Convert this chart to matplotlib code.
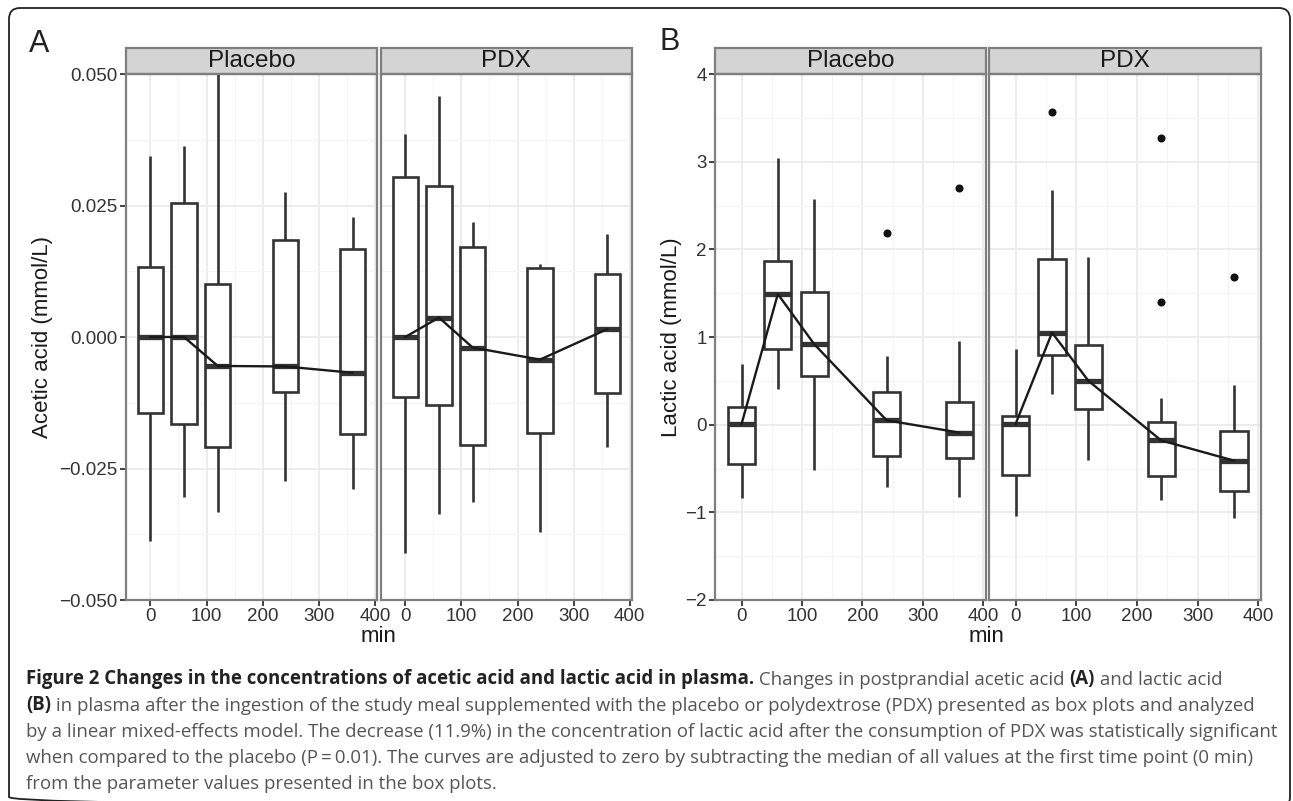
import matplotlib
matplotlib.use('Agg')
import matplotlib.pyplot as plt
from matplotlib.patches import FancyBboxPatch, Rectangle
from matplotlib.ticker import MultipleLocator, FuncFormatter

W, H = 1293, 801

times = [0, 60, 120, 240, 360]

# acetic acid, placebo (whisker low, Q1, median, Q3, whisker high)
ac_pla_lo = [-0.0387, -0.0304, -0.0332, -0.0274, -0.0289]
ac_pla_q1 = [-0.0144, -0.0165, -0.0209, -0.0105, -0.0185]
ac_pla_med = [0.0, 0.0, -0.0055, -0.0056, -0.0068]
ac_pla_q3 = [0.0134, 0.0255, 0.0101, 0.0184, 0.0167]
ac_pla_hi = [0.0344, 0.0363, 0.0505, 0.0275, 0.0229]

# acetic acid, PDX
ac_pdx_lo = [-0.0411, -0.0337, -0.0314, -0.0371, -0.0210]
ac_pdx_q1 = [-0.0115, -0.0129, -0.0205, -0.0182, -0.0107]
ac_pdx_med = [0.0, 0.0037, -0.0020, -0.0043, 0.0015]
ac_pdx_q3 = [0.0305, 0.0288, 0.0171, 0.0131, 0.0120]
ac_pdx_hi = [0.0385, 0.0459, 0.0218, 0.0138, 0.0195]

# lactic acid, placebo
la_pla_lo = [-0.84, 0.41, -0.52, -0.71, -0.83]
la_pla_q1 = [-0.45, 0.86, 0.56, -0.36, -0.38]
la_pla_med = [0.01, 1.49, 0.92, 0.05, -0.09]
la_pla_q3 = [0.20, 1.87, 1.51, 0.37, 0.26]
la_pla_hi = [0.69, 3.04, 2.57, 0.78, 0.96]
la_pla_out_t = [240, 360]
la_pla_out_y = [2.19, 2.70]

# lactic acid, PDX
la_pdx_lo = [-1.04, 0.35, -0.40, -0.86, -1.07]
la_pdx_q1 = [-0.57, 0.79, 0.18, -0.58, -0.76]
la_pdx_med = [0.01, 1.05, 0.50, -0.18, -0.41]
la_pdx_q3 = [0.10, 1.89, 0.91, 0.03, -0.07]
la_pdx_hi = [0.86, 2.68, 1.91, 0.30, 0.45]
la_pdx_out_t = [60, 240, 240, 360]
la_pdx_out_y = [3.57, 3.27, 1.40, 1.69]

facet_names = ['Placebo', 'PDX']
caption_lines = [
    [("Figure 2 Changes in the concentrations of acetic acid and lactic acid in plasma.", True),
     (" Changes in postprandial acetic acid ", False), ("(A)", True), (" and lactic acid", False)],
    [("(B)", True), (" in plasma after the ingestion of the study meal supplemented with the placebo or "
                     "polydextrose (PDX) presented as box plots and analyzed", False)],
    [("by a linear mixed-effects model. The decrease (11.9%) in the concentration of lactic acid after "
      "the consumption of PDX was statistically significant", False)],
    [("when compared to the placebo (P\u2009=\u20090.01). The curves are adjusted to zero by subtracting "
      "the median of all values at the first time point (0 min)", False)],
    [("from the parameter values presented in the box plots.", False)],
]

plt.rcParams['font.family'] = ['Liberation Sans', 'DejaVu Sans']
box_col = '#333333'
tick_col = '#333333'

fig = plt.figure(figsize=(W / 100, H / 100), dpi=100)
fig.patch.set_facecolor('white')

# background axes in pixel coordinates for border, labels and caption
bg = fig.add_axes([0, 0, 1, 1], zorder=0)
bg.set_xlim(0, W)
bg.set_ylim(H, 0)
bg.axis('off')
bg.patch.set_alpha(0)

border = FancyBboxPatch((9, 8), 1281, 800, boxstyle='round,pad=0,rounding_size=11',
                        fc='none', ec='#222222', lw=1.3, clip_on=False)
bg.add_patch(border)


def px_axes(x0, x1, y0, y1):
    return fig.add_axes([x0 / W, 1 - y1 / H, (x1 - x0) / W, (y1 - y0) / H], zorder=1)


def minus_fmt(fmt):
    return FuncFormatter(lambda v, pos: (fmt % v).replace('-', '\u2212'))


def draw_facet(ax, name, lo, q1, med, q3, hi, ylim, major, minor, fmt, show_y,
               out_t=(), out_y=()):
    stats = [dict(whislo=a, q1=b, med=c, q3=d, whishi=e)
             for a, b, c, d, e in zip(lo, q1, med, q3, hi)]
    ax.bxp(stats, positions=times, widths=45, showcaps=False, showfliers=False,
           patch_artist=True, manage_ticks=False,
           boxprops=dict(facecolor='white', edgecolor=box_col, linewidth=1.9),
           whiskerprops=dict(color=box_col, linewidth=1.9, solid_capstyle='butt'),
           medianprops=dict(color=box_col, linewidth=3.8, solid_capstyle='butt'))
    ax.plot(times, med, color='#1a1a1a', lw=1.7, zorder=5)
    if len(out_t):
        ax.plot(out_t, out_y, 'o', color='#111111', ms=4.8, zorder=4)
    ax.set_xlim(-44, 404)
    ax.set_ylim(*ylim)
    ax.xaxis.set_major_locator(MultipleLocator(100))
    ax.xaxis.set_minor_locator(MultipleLocator(50))
    ax.yaxis.set_major_locator(MultipleLocator(major))
    ax.yaxis.set_minor_locator(MultipleLocator(minor))
    ax.yaxis.set_major_formatter(minus_fmt(fmt))
    ax.set_axisbelow(True)
    ax.grid(which='major', color='#ebebeb', lw=1.3)
    ax.grid(which='minor', color='#f4f4f4', lw=0.8)
    for sp in ax.spines.values():
        sp.set_color('#7f7f7f')
        sp.set_linewidth(1.6)
    ax.tick_params(which='minor', length=0)
    ax.tick_params(axis='x', which='major', length=4, width=1.3, color=tick_col,
                   labelsize=13.5, labelcolor=tick_col, pad=2)
    ax.tick_params(axis='y', which='major', length=4, width=1.3, color=tick_col,
                   labelsize=13.5, labelcolor=tick_col, pad=2)
    if not show_y:
        ax.tick_params(axis='y', which='both', left=False, labelleft=False)
    # facet strip
    strip_h = 26 / ax.bbox.height * 100 / fig.dpi
    ax.add_patch(Rectangle((0, 1), 1, strip_h, transform=ax.transAxes, clip_on=False,
                           fc='#d4d4d4', ec='#7f7f7f', lw=1.6))
    ax.text(0.5, 1 + strip_h / 2, name, transform=ax.transAxes, ha='center', va='center',
            fontsize=17.5, color='#1a1a1a')


top, bottom = 74, 600
axA1 = px_axes(125.6, 377.3, top, bottom)
axA2 = px_axes(380.6, 632, top, bottom)
axB1 = px_axes(715, 985.7, top, bottom)
axB2 = px_axes(989, 1260.6, top, bottom)

draw_facet(axA1, facet_names[0], ac_pla_lo, ac_pla_q1, ac_pla_med, ac_pla_q3, ac_pla_hi,
           (-0.05, 0.05), 0.025, 0.0125, '%.3f', True)
draw_facet(axA2, facet_names[1], ac_pdx_lo, ac_pdx_q1, ac_pdx_med, ac_pdx_q3, ac_pdx_hi,
           (-0.05, 0.05), 0.025, 0.0125, '%.3f', False)
draw_facet(axB1, facet_names[0], la_pla_lo, la_pla_q1, la_pla_med, la_pla_q3, la_pla_hi,
           (-2, 4), 1, 0.5, '%d', True, la_pla_out_t, la_pla_out_y)
draw_facet(axB2, facet_names[1], la_pdx_lo, la_pdx_q1, la_pdx_med, la_pdx_q3, la_pdx_hi,
           (-2, 4), 1, 0.5, '%d', False, la_pdx_out_t, la_pdx_out_y)

# panel letters, axis titles
bg.text(29, 52, 'A', fontsize=22, color='#222222', va='baseline')
bg.text(659, 50, 'B', fontsize=22, color='#222222', va='baseline')
bg.text(43, 337, 'Acetic acid (mmol/L)', rotation=90, ha='center', va='center',
        fontsize=16, color='#1a1a1a')
bg.text(671, 337, 'Lactic acid (mmol/L)', rotation=90, ha='center', va='center',
        fontsize=16, color='#1a1a1a')
bg.text(379, 637, 'min', ha='center', va='center', fontsize=16, color='#1a1a1a')
bg.text(987, 637, 'min', ha='center', va='center', fontsize=16, color='#1a1a1a')

# caption with bold runs
cap_size = 13.45
y0 = 684
for i, line in enumerate(caption_lines):
    prev = None
    for seg, bold in line:
        kw = dict(fontsize=cap_size, family='Open Sans',
                  fontweight='bold' if bold else 'normal',
                  color='#222222' if bold else '#555555')
        if prev is None:
            prev = bg.text(26, y0 + i * 26.3, seg, va='baseline', **kw)
        else:
            prev = bg.annotate(seg, xycoords=prev, xy=(1, 0), va='bottom', **kw)

fig.savefig('out.png', dpi=100)
